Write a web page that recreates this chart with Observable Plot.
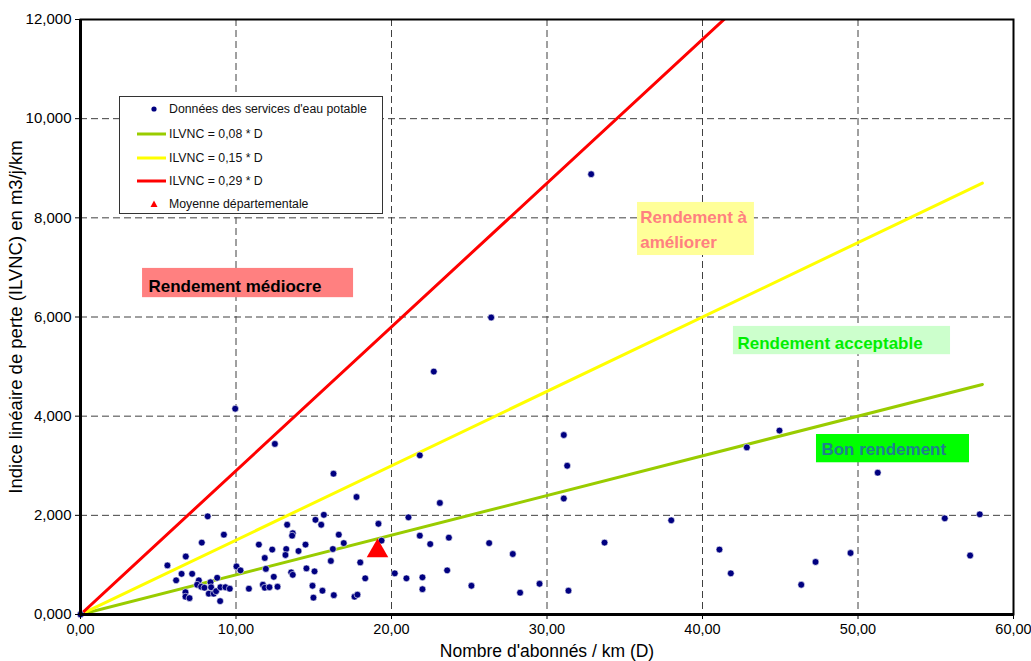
<!DOCTYPE html>
<html>
<head>
<meta charset="utf-8">
<script src="https://cdn.jsdelivr.net/npm/d3@7"></script>
<script src="https://cdn.jsdelivr.net/npm/@observablehq/plot@0.6"></script>
<style>
  body { margin: 0; background: #fff; font-family: "Liberation Sans", Arial, sans-serif; }
  #wrap { position: relative; width: 1031px; height: 661px; }
  #legend { position: absolute; left: 119px; top: 96px; width: 264px; height: 118px;
    border: 1px solid #333; background: #fff; font-size: 12.3px; color: #111; box-sizing: border-box; }
  .row { position: absolute; left: 0; height: 14px; }
  .sw { position: absolute; left: 17px; width: 30px; height: 14px; }
  .lab { position: absolute; left: 49px; white-space: nowrap; line-height: 14px; }
</style>
</head>
<body>
<div id="wrap">
  <div id="chart"></div>
  <div id="legend"></div>
</div>
<script>
// Services data: D (abonnés/km) and ILVNC (m3/j/km)
const abonnesKm = [0, 8.18, 9.22, 7.80, 6.77, 5.59, 6.50, 6.15, 7.18, 7.61, 7.50, 7.76, 7.97, 8.36, 8.79, 8.40, 8.25, 8.57, 8.72, 9.00, 9.32, 9.60, 6.75, 6.75, 7.01, 8.98, 10.03, 10.29, 10.83, 17.75, 15.65, 15.11, 15.48, 13.29, 13.65, 13.61, 16.61, 16.93, 19.16, 19.36, 11.47, 12.33, 13.23, 14.47, 14.02, 13.18, 16.23, 11.85, 16.10, 17.99, 11.92, 14.53, 15.05, 13.55, 13.65, 12.43, 18.31, 20.21, 11.73, 11.85, 12.15, 12.67, 14.92, 15.56, 14.98, 16.29, 17.62, 17.81, 26.41, 22.72, 9.95, 12.50, 16.27, 21.82, 31.08, 31.30, 31.08, 23.11, 21.09, 21.82, 22.49, 23.69, 26.28, 27.80, 33.70, 20.96, 21.99, 21.99, 23.58, 25.14, 28.27, 29.52, 31.38, 44.95, 42.85, 51.27, 37.99, 55.58, 57.83, 41.09, 41.82, 47.27, 49.52, 57.21, 46.35, 32.84];
const ilvnc = [0, 1.98, 1.61, 1.45, 1.17, 0.99, 0.82, 0.69, 0.82, 0.69, 0.60, 0.56, 0.54, 0.65, 0.74, 0.55, 0.42, 0.42, 0.47, 0.55, 0.55, 0.52, 0.45, 0.36, 0.33, 0.27, 0.97, 0.89, 0.52, 2.37, 2.01, 1.91, 1.81, 1.81, 1.64, 1.59, 1.61, 1.44, 1.83, 1.49, 1.41, 1.31, 1.32, 1.41, 1.28, 1.20, 1.32, 1.14, 1.08, 1.05, 0.92, 0.93, 0.87, 0.85, 0.80, 0.76, 0.73, 0.83, 0.60, 0.54, 0.55, 0.56, 0.58, 0.48, 0.34, 0.39, 0.36, 0.40, 5.99, 4.90, 4.15, 3.44, 2.84, 3.21, 3.62, 3.00, 2.34, 2.25, 1.96, 1.59, 1.42, 1.55, 1.44, 1.22, 1.45, 0.73, 0.75, 0.51, 0.89, 0.58, 0.44, 0.62, 0.48, 3.71, 3.37, 2.86, 1.90, 1.94, 2.02, 1.31, 0.83, 1.06, 1.24, 1.19, 0.60, 8.88];

// Département average
const moyenneD = [19.1];
const moyenneIlvnc = [1.28];

// Reference lines ILVNC = k * D
const lineNames = ["ILVNC = 0,08 * D", "ILVNC = 0,15 * D", "ILVNC = 0,29 * D"];
const lineSlopes = [0.08, 0.15, 0.29];
const lineColors = ["#99CC00", "#FFFF00", "#FF0000"];
const lineXEnd = 58;

// Ticks
const xTicks = [0, 10, 20, 30, 40, 50, 60];
const yTicks = [0, 2, 4, 6, 8, 10, 12];

// Zone annotations
const zoneTexts = ["Rendement médiocre", "Rendement à\naméliorer", "Rendement acceptable", "Bon rendement"];
const zoneX1 = [3.99, 35.82, 41.99, 47.33];
const zoneX2 = [17.56, 43.34, 55.95, 57.17];
const zoneY1 = [6.39, 7.24, 5.24, 3.06];
const zoneY2 = [6.98, 8.31, 5.81, 3.63];
const zoneTextX = [4.37, 36.0, 42.25, 47.65];
const zoneTextY = [6.67, 7.80, 5.52, 3.37];
const zoneFill = ["#FF8080", "#FFFF99", "#CCFFCC", "#00FF00"];
const zoneColor = ["#000000", "#FF8080", "#00EE00", "#1F7F8F"];

const points = abonnesKm.map((d, i) => ({D: d, v: ilvnc[i]}));
const moyenne = moyenneD.map((d, i) => ({D: d, v: moyenneIlvnc[i]}));
const lines = [];
lineSlopes.forEach((k, i) => {
  [0, lineXEnd].forEach(x => lines.push({name: lineNames[i], D: x, v: k * x}));
});
const zones = zoneTexts.map((t, i) => ({t, x1: zoneX1[i], x2: zoneX2[i], y1: zoneY1[i], y2: zoneY2[i],
  tx: zoneTextX[i], ty: zoneTextY[i], fill: zoneFill[i], color: zoneColor[i]}));

const fmtY = v => d3.format(".3f")(v).replace(".", ",");
const fmtX = v => d3.format(".2f")(v).replace(".", ",");

const chart = Plot.plot({
  width: 1031,
  height: 661,
  marginLeft: 80,
  marginRight: 18,
  marginTop: 19,
  marginBottom: 47,
  style: {fontFamily: '"Liberation Sans", Arial, sans-serif', background: "#fff", color: "#000"},
  x: {domain: [0, 60], ticks: xTicks, tickFormat: fmtX},
  y: {domain: [0, 12], ticks: yTicks, tickFormat: fmtY},
  color: {domain: lineNames, range: lineColors},
  marks: [
    Plot.gridX(xTicks.slice(1, -1), {stroke: "#404040", strokeOpacity: 1, strokeDasharray: "7,4", strokeWidth: 1}),
    Plot.gridY(yTicks.slice(1, -1), {stroke: "#404040", strokeOpacity: 1, strokeDasharray: "7,4", strokeWidth: 1}),
    Plot.rect(zones, {x1: "x1", x2: "x2", y1: "y1", y2: "y2", fill: "fill"}),
    Plot.text(zones, {x: "tx", y: "ty", text: "t", fill: "color", textAnchor: "start", fontWeight: "bold", fontSize: 17, lineHeight: 1.45}),
    Plot.line(lines, {x: "D", y: "v", z: "name", stroke: "name", strokeWidth: 3, clip: true}),
    Plot.dot(points, {x: "D", y: "v", r: 3.4, fill: "#000080", stroke: "#fff", strokeWidth: 0.6}),
    Plot.dot(moyenne, {x: "D", y: "v", symbol: "triangle", r: 8, fill: "#FF0000"}),
    Plot.frame({stroke: "#000", strokeWidth: 2}),
    Plot.ruleX([0], {stroke: "#000", strokeWidth: 3}),
    Plot.ruleY([0], {stroke: "#000", strokeWidth: 3}),
    Plot.axisY({ticks: yTicks, tickFormat: fmtY, tickSize: 5, tickPadding: 4, fontSize: 15,
      label: "Indice linéaire de perte (ILVNC) en m3/j/km", labelAnchor: "center", labelArrow: "none", labelOffset: 72}),
    Plot.axisX({ticks: xTicks, tickFormat: fmtX, tickSize: 5, tickPadding: 4, fontSize: 14.5,
      label: "Nombre d'abonnés / km (D)", labelAnchor: "center", labelArrow: "none", labelOffset: 42})
  ]
});
chart.querySelectorAll('[aria-label="y-axis label"] text').forEach(t => t.setAttribute("font-size", 18.5));
chart.querySelectorAll('[aria-label="x-axis label"] text').forEach(t => t.setAttribute("font-size", 17.5));
document.getElementById("chart").appendChild(chart);

// Legend
const legend = document.getElementById("legend");
const rowsY = [5, 30, 54, 77, 100];
const items = [
  {label: "Données des services d'eau potable", kind: "dot", color: "#000080"},
  ...lineNames.map((n, i) => ({label: n, kind: "line", color: lineColors[i]})),
  {label: "Moyenne départementale", kind: "tri", color: "#FF0000"}
];
items.forEach((it, i) => {
  const row = document.createElement("div");
  row.className = "row";
  row.style.top = rowsY[i] + "px";
  let sw = "";
  if (it.kind === "dot") sw = `<svg class="sw" width="30" height="14"><circle cx="17" cy="7" r="2.6" fill="${it.color}"/></svg>`;
  else if (it.kind === "line") sw = `<svg class="sw" width="30" height="14"><line x1="0" x2="29" y1="7" y2="7" stroke="${it.color}" stroke-width="3"/></svg>`;
  else sw = `<svg class="sw" width="30" height="14"><path d="M17,3.5 L20.5,10 L13.5,10 Z" fill="${it.color}"/></svg>`;
  row.innerHTML = sw + `<span class="lab">${it.label}</span>`;
  legend.appendChild(row);
});
</script>
</body>
</html>
